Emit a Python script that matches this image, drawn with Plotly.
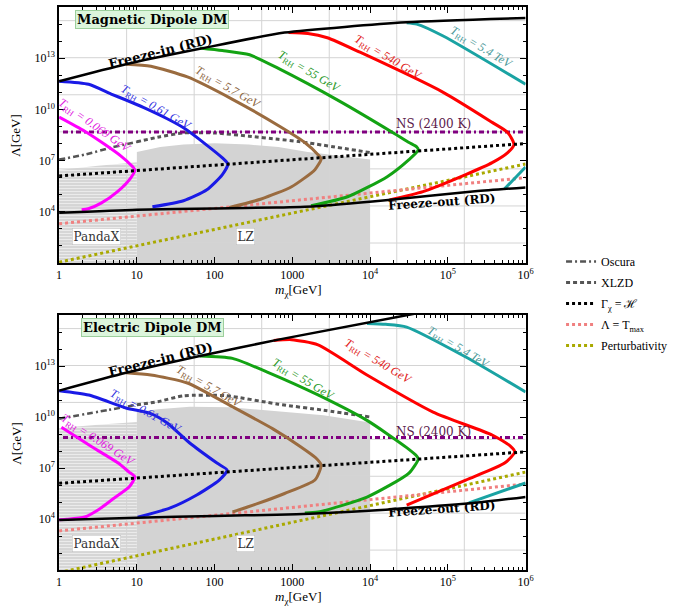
import numpy as np
import plotly.graph_objects as go

W, H = 697, 607
SERIF = "DejaVu Serif"
TIMES = "Liberation Serif"

# ---------------- data (log10 of m_chi [GeV] and log10 of Lambda [GeV]) -------------
x_tickvals = [1, 10, 100, 1000, 1e4, 1e5, 1e6]
x_ticktext = ["1", "10", "100", "1000", "10<sup>4</sup>", "10<sup>5</sup>", "10<sup>6</sup>"]
y_tickvals = [1e4, 1e7, 1e10, 1e13]
y_ticktext = ["10<sup>4</sup>", "10<sup>7</sup>", "10<sup>10</sup>", "10<sup>13</sup>"]

# --- Magnetic dipole (top) ---
mag_fi_lm = [0, 0.86, 1.81, 2.9, 4.47, 6.0]
mag_fi_lL = [11.65, 12.65, 13.55, 14.5, 15.1, 15.35]
mag_fo_lm = [0, 1, 2, 2.8, 3.3, 4.2, 5.35, 6]
mag_fo_lL = [3.94, 4.12, 4.2, 4.25, 4.33, 4.68, 5.2, 5.43]
mag_gam_lm = [0, 6]
mag_gam_lL = [6.1, 8.0]
mag_ns_lm = [0.05, 6]
mag_ns_lL = [8.68, 8.68]
mag_osc_lm = [0, 0.33, 0.67, 1.0]
mag_osc_lL = [7.06, 7.35, 7.76, 8.1]
mag_xlzd_lm = [1.0, 1.3, 1.6, 2.0, 2.44, 2.82, 3.08, 4.0]
mag_xlzd_lL = [8.1, 8.4, 8.62, 8.62, 8.43, 8.25, 8.12, 7.47]
mag_tmax_lm = [0, 6]
mag_tmax_lL = [3.3, 6.0]
mag_pert_lm = [0, 6]
mag_pert_lL = [1.05, 6.8]
mag_lz_lm = [1, 1, 1.3, 1.6, 2.0, 2.44, 2.82, 3.2, 4.0, 4.0]
mag_lz_lL = [1, 7.5, 7.8, 7.95, 8.02, 7.94, 7.8, 7.5, 7.06, 1]
mag_pdx_lm = [0, 0, 0.5, 1, 1]
mag_pdx_lL = [1, 6.45, 6.7, 6.9, 1]
mag_mag_lm = [0, 0.33, 0.59, 0.8, 0.92, 0.975, 0.92, 0.755, 0.54, 0.375, 0.29]
mag_mag_lL = [9.55, 8.72, 7.94, 7.25, 6.76, 6.45, 5.98, 5.2, 4.51, 4.18, 4.12]
mag_blue_lm = [0, 0.38, 0.67, 0.86, 1.09, 1.39, 1.6, 1.89, 2.1, 2.17, 2.1, 1.9, 1.6, 1.2]
mag_blue_lL = [11.65, 11.47, 10.9, 10.55, 10.1, 9.45, 8.92, 7.94, 7.16, 6.8, 6.18, 5.29, 4.65, 4.29]
mag_brown_lm = [0.86, 1.18, 1.65, 2.23, 2.84, 3.16, 3.33, 3.37, 3.29, 2.99, 2.6, 2.19]
mag_brown_lL = [12.65, 12.53, 11.9, 10.59, 9.0, 8.06, 7.35, 7.1, 6.47, 5.47, 4.75, 4.25]
mag_green_lm = [1.81, 2.1, 2.45, 2.82, 3.6, 4.3, 4.5, 4.6, 4.62, 4.5, 4.22, 3.71, 3.24]
mag_green_lL = [13.6, 13.45, 13.2, 12.4, 10.5, 8.62, 8.06, 7.8, 7.62, 7.06, 6.06, 4.88, 4.35]
mag_red_lm = [2.95, 3.2, 3.45, 3.87, 4.94, 5.57, 5.77, 5.85, 5.77, 5.57, 5.23, 4.68, 4.25]
mag_red_lL = [14.5, 14.45, 14.2, 13.35, 11.0, 9.24, 8.65, 7.94, 7.47, 6.88, 6.18, 5.18, 4.7]
mag_teal_lm = [4.47, 4.6, 4.94, 6.0]
mag_teal_lL = [15.08, 15.0, 14.3, 11.47]
mag_teal2_lm = [5.73, 6.0]
mag_teal2_lL = [5.35, 6.62]

# --- Electric dipole (bottom) ---
ele_fi_lm = [0, 0.86, 1.81, 2.82, 4.6]
ele_fi_lL = [11.55, 12.6, 13.59, 14.55, 16.1]
ele_fo_lm = [0, 1, 2, 2.8, 3.3, 4.2, 5.35, 6]
ele_fo_lL = [3.94, 4.08, 4.18, 4.25, 4.32, 4.55, 4.95, 5.3]
ele_gam_lm = [0, 6]
ele_gam_lL = [6.1, 7.95]
ele_ns_lm = [0.05, 6]
ele_ns_lL = [8.8, 8.8]
ele_osc_lm = [0, 0.63, 1.0]
ele_osc_lL = [9.9, 10.41, 10.72]
ele_xlzd_lm = [1.0, 1.27, 1.6, 2.15, 2.82, 3.4, 4.0]
ele_xlzd_lL = [10.72, 10.9, 11.25, 11.25, 10.75, 10.4, 10.0]
ele_tmax_lm = [0, 6]
ele_tmax_lL = [3.3, 6.06]
ele_pert_lm = [0, 6]
ele_pert_lL = [0.85, 6.76]
ele_lz_lm = [1, 1, 1.27, 1.68, 2.2, 2.82, 3.4, 4, 4]
ele_lz_lL = [1, 10.3, 10.45, 10.6, 10.58, 10.35, 10.1, 9.68, 1]
ele_pdx_lm = [0, 0, 0.5, 1, 1]
ele_pdx_lL = [1, 9.35, 9.55, 9.7, 1]
ele_mag_lm = [0.03, 0.42, 0.76, 0.9, 0.975, 0.9, 0.71, 0.5, 0.33, 0.1, 0]
ele_mag_lL = [9.4, 8.25, 7.29, 6.76, 6.47, 5.88, 5.24, 4.53, 4.12, 3.98, 3.95]
ele_blue_lm = [0, 0.38, 0.86, 1.18, 1.39, 1.68, 2.03, 2.16, 2.06, 1.77, 1.43, 1.01]
ele_blue_lL = [11.55, 11.29, 10.53, 10.2, 9.65, 8.47, 7.29, 6.88, 6.29, 5.41, 4.65, 4.1]
ele_brown_lm = [0.86, 1.18, 1.65, 2.23, 2.75, 3.11, 3.3, 3.37, 3.29, 2.9, 2.55, 2.23]
ele_brown_lL = [12.6, 12.47, 12.0, 10.6, 9.3, 8.24, 7.6, 7.18, 6.29, 5.5, 4.9, 4.41]
ele_green_lm = [1.81, 2.23, 2.7, 3.33, 3.96, 4.47, 4.6, 4.62, 4.5, 3.96, 3.33, 3.16]
ele_green_lL = [13.59, 13.45, 12.6, 11.3, 9.8, 8.2, 7.7, 7.53, 6.7, 5.29, 4.41, 4.35]
ele_red_lm = [2.76, 2.99, 3.33, 3.96, 4.81, 5.57, 5.8, 5.86, 5.73, 5.23, 4.47]
ele_red_lL = [14.5, 14.55, 14.24, 12.47, 10.29, 8.94, 8.3, 7.94, 7.29, 6.29, 4.82]
ele_teal_lm = [3.96, 4.2, 4.47, 5.23, 6.0]
ele_teal_lL = [15.5, 15.45, 15.29, 13.53, 11.47]
ele_teal2_lm = [5.27, 6.0]
ele_teal2_lL = [4.95, 6.12]

trh_labels = ["0.069 GeV", "0.61 GeV", "5.7 GeV", "55 GeV", "540 GeV", "5.4 TeV"]

# ---------------- styling -----------------
C_MAG, C_BLUE, C_BROWN = "#ff00ff", "#1a1ae6", "#9a6b3f"
C_GREEN, C_RED, C_TEAL = "#13a313", "#ff0000", "#1aa3a3"
C_GRAY, C_NS = "#555555", "#800080"
C_PINK, C_OLIVE = "#f08080", "#a9a900"

# pixel geometry of the two panels
PX_X = (57, 531)
PX_TOP = (7, 263)
PX_BOT = (315, 570)


def ydom(p):
    return [1 - p[1] / H, 1 - p[0] / H]


fig = go.Figure()


def P(a):
    return 10 ** np.asarray(a, dtype=float)


def add_line(lm, lL, color, width, dash, sub, name=None, legend=False, fill=None, fillcolor=None, pattern=None):
    xa, ya = ("x", "y") if sub == 0 else ("x2", "y2")
    kw = dict(x=P(lm), y=P(lL), mode="lines", xaxis=xa, yaxis=ya, hoverinfo="skip",
              showlegend=legend, name=name or "", legendgroup=name)
    if fill:
        kw.update(fill="toself", fillcolor=fillcolor, line=dict(width=0, color=fillcolor))
        if pattern:
            kw["fillpattern"] = pattern
    else:
        kw["line"] = dict(color=color, width=width, dash=dash, shape="spline", smoothing=0.6)
    fig.add_trace(go.Scatter(**kw))


grid_x = np.exp(2 * np.arange(1, 7))
grid_y = np.exp(5 * np.arange(1, 8))

panels = [
    dict(pdx=(mag_pdx_lm, mag_pdx_lL), lz=(mag_lz_lm, mag_lz_lL), fi=(mag_fi_lm, mag_fi_lL),
         fo=(mag_fo_lm, mag_fo_lL), gam=(mag_gam_lm, mag_gam_lL), ns=(mag_ns_lm, mag_ns_lL),
         osc=(mag_osc_lm, mag_osc_lL), xlzd=(mag_xlzd_lm, mag_xlzd_lL), tmax=(mag_tmax_lm, mag_tmax_lL),
         pert=(mag_pert_lm, mag_pert_lL),
         curves=[(mag_mag_lm, mag_mag_lL, C_MAG), (mag_blue_lm, mag_blue_lL, C_BLUE),
                 (mag_brown_lm, mag_brown_lL, C_BROWN), (mag_green_lm, mag_green_lL, C_GREEN),
                 (mag_red_lm, mag_red_lL, C_RED), (mag_teal_lm, mag_teal_lL, C_TEAL),
                 (mag_teal2_lm, mag_teal2_lL, C_TEAL)]),
    dict(pdx=(ele_pdx_lm, ele_pdx_lL), lz=(ele_lz_lm, ele_lz_lL), fi=(ele_fi_lm, ele_fi_lL),
         fo=(ele_fo_lm, ele_fo_lL), gam=(ele_gam_lm, ele_gam_lL), ns=(ele_ns_lm, ele_ns_lL),
         osc=(ele_osc_lm, ele_osc_lL), xlzd=(ele_xlzd_lm, ele_xlzd_lL), tmax=(ele_tmax_lm, ele_tmax_lL),
         pert=(ele_pert_lm, ele_pert_lL),
         curves=[(ele_mag_lm, ele_mag_lL, C_MAG), (ele_blue_lm, ele_blue_lL, C_BLUE),
                 (ele_brown_lm, ele_brown_lL, C_BROWN), (ele_green_lm, ele_green_lL, C_GREEN),
                 (ele_red_lm, ele_red_lL, C_RED), (ele_teal_lm, ele_teal_lL, C_TEAL),
                 (ele_teal2_lm, ele_teal2_lL, C_TEAL)]),
]

for i, p in enumerate(panels):
    xa, ya = ("x", "y") if i == 0 else ("x2", "y2")
    # exclusion regions
    add_line(*p["pdx"], None, 0, None, i, fill=True, fillcolor="#d6d6d6",
             pattern=dict(shape="-", bgcolor="#d6d6d6", fgcolor="#ffffff", size=3, solidity=0.35))
    add_line(*p["lz"], None, 0, None, i, fill=True, fillcolor="#d3d3d3")
    # grid lines
    gx, gy = [], []
    for v in grid_x:
        gx += [v, v, None]
        gy += [10, 1e16, None]
    fig.add_trace(go.Scatter(x=gx, y=gy, mode="lines", line=dict(color="#d4d4d4", width=1),
                             xaxis=xa, yaxis=ya, showlegend=False, hoverinfo="skip"))
    gx, gy = [], []
    for v in grid_y:
        gx += [1, 1e6, None]
        gy += [v, v, None]
    fig.add_trace(go.Scatter(x=gx, y=gy, mode="lines", line=dict(color="#d4d4d4", width=1),
                             xaxis=xa, yaxis=ya, showlegend=False, hoverinfo="skip"))
    lg = i == 0
    add_line(*p["pert"], C_OLIVE, 3, "3px,3px", i, name="Perturbativity", legend=lg)
    add_line(*p["tmax"], C_PINK, 3, "3px,3px", i, name="Λ = T<sub>max</sub>", legend=lg)
    add_line(*p["osc"], C_GRAY, 2.5, "6px,3px,2px,3px", i, name="Oscura", legend=lg)
    add_line(*p["xlzd"], C_GRAY, 3, "4px,3px", i, name="XLZD", legend=lg)
    add_line(*p["ns"], C_NS, 3, "5px,3px,2px,3px", i)
    for lm, lL, c in p["curves"]:
        add_line(lm, lL, c, 3, "solid", i)
    add_line(*p["gam"], "black", 3, "3px,3px", i, name="Γ<sub>χ</sub> = ℋ", legend=lg)
    add_line(*p["fi"], "black", 2.5, "solid", i)
    add_line(*p["fo"], "black", 2.5, "solid", i)

# legend order: Oscura, XLZD, Gamma, Lambda, Perturbativity
order = {"Oscura": 1, "XLZD": 2, "Γ<sub>χ</sub> = ℋ": 3, "Λ = T<sub>max</sub>": 4, "Perturbativity": 5}
for tr in fig.data:
    if tr.showlegend:
        tr.legendrank = order[tr.name]

# ---------------- axes -----------------
x_minor = [k * 10 ** d for d in range(0, 6) for k in range(2, 10)]
y_minor = list(10.0 ** np.arange(1, 17))
ax_common = dict(type="log", showline=True, linecolor="black", linewidth=1.6, mirror="allticks",
                 ticks="inside", ticklen=6, tickwidth=1.2, tickcolor="black", showgrid=False,
                 zeroline=False, tickfont=dict(family=TIMES, size=12, color="black"), tickmode="array")
xdom = [PX_X[0] / W, PX_X[1] / W]
for k, (pp, anc) in enumerate([(PX_TOP, "y"), (PX_BOT, "y2")]):
    xn = "xaxis" if k == 0 else "xaxis2"
    yn = "yaxis" if k == 0 else "yaxis2"
    fig.layout[xn] = dict(ax_common, domain=xdom, range=[0, 6], anchor=anc,
                          tickvals=x_tickvals, ticktext=x_ticktext,
                          minor=dict(tickmode="array", tickvals=x_minor, ticks="inside", ticklen=3,
                                     tickcolor="black", showgrid=False))
    fig.layout[yn] = dict(ax_common, domain=ydom(pp), range=[1, 16], anchor=("x" if k == 0 else "x2"),
                          tickvals=y_tickvals, ticktext=y_ticktext,
                          minor=dict(tickmode="array", tickvals=y_minor, ticks="inside", ticklen=3,
                                     tickcolor="black", showgrid=False))

# ---------------- annotations -----------------
ann = []


def label(sub, lm, lL, text, angle=0, color="black", size=11, family=TIMES, **kw):
    xa, ya = ("x", "y") if sub == 0 else ("x2", "y2")
    ann.append(dict(x=lm, y=lL, xref=xa, yref=ya, text=text, textangle=angle, showarrow=False,
                    font=dict(family=family, size=size, color=color), **kw))


trh_colors = ["#e020e0", "#3030e0", "#8a6440", "#2a9a2a", "#e02020", "#4c9a9a"]
trh_pos = [
    [(0.45, 9.05, 35), (1.24, 10.06, 30), (2.17, 11.24, 30), (3.21, 12.2, 31), (4.23, 13.04, 31), (5.43, 13.59, 31)],
    [(0.5, 8.6, 33), (1.11, 10.31, 29), (1.92, 11.74, 30), (3.14, 12.18, 31), (4.1, 13.25, 31), (5.13, 14.06, 31)],
]
for s in range(2):
    for (lm, lL, a), t, c in zip(trh_pos[s], trh_labels, trh_colors):
        label(s, lm, lL, "<i>T</i><sub>RH</sub> <i>= " + t + "</i>", a, c, 12)
    label(s, 1.30, 13.41, "<b>Freeze-in (RD)</b>", -14, "black", 13, SERIF)
    label(s, 4.92, 4.56, "<b>Freeze-out (RD)</b>", -4, "black", 12, SERIF)
    label(s, 4.82, 9.13 if s else 9.12, "NS (2400 K)", 0, "#5a1a4a", 12, SERIF)
    label(s, 0.48, 2.53, "PandaX", 0, "#333333", 12, SERIF, bgcolor="white", bordercolor="#bbbbbb",
          borderwidth=0.5, borderpad=1)
    label(s, 2.4, 2.53, "LZ", 0, "#333333", 12, SERIF, bgcolor="white", bordercolor="#bbbbbb",
          borderwidth=0.5, borderpad=1)
label(0, 1.2, 15.29, "<b>Magnetic Dipole DM</b>", 0, "black", 13, SERIF, bgcolor="#dcf5dc",
      bordercolor="#9ccf9c", borderwidth=1, borderpad=1)
label(1, 1.2, 15.26, "<b>Electric Dipole DM</b>", 0, "black", 13, SERIF, bgcolor="#dcf5dc",
      bordercolor="#9ccf9c", borderwidth=1, borderpad=1)

for yc in [290, 597]:
    ann.append(dict(x=300 / W, y=1 - yc / H, xref="paper", yref="paper", showarrow=False,
                    xanchor="center", yanchor="middle",
                    text="<i>m</i><sub>χ</sub>[GeV]", font=dict(family=TIMES, size=13, color="black")))
for yc in [135, 443]:
    ann.append(dict(x=13 / W, y=1 - yc / H, xref="paper", yref="paper", showarrow=False, textangle=-90,
                    xanchor="center", yanchor="middle",
                    text="Λ[GeV]", font=dict(family=TIMES, size=13, color="black")))

fig.update_layout(
    annotations=ann,
    width=W, height=H, margin=dict(l=0, r=0, t=0, b=0),
    paper_bgcolor="white", plot_bgcolor="white",
    legend=dict(x=567 / W, y=1 - 247 / H, xanchor="left", yanchor="top", bgcolor="rgba(0,0,0,0)",
                font=dict(family=TIMES, size=12, color="black"), tracegroupgap=2, itemwidth=30),
)

fig.write_html("out.html")
